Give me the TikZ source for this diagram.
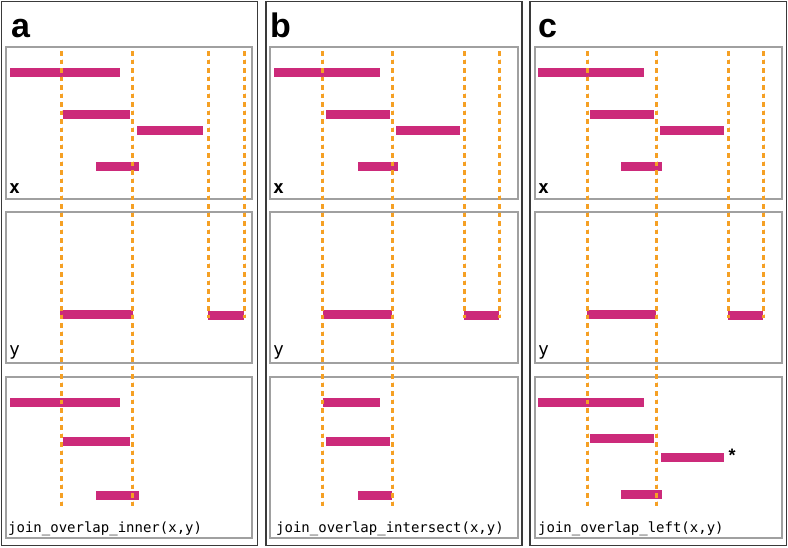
\documentclass[tikz,border=0pt]{standalone}
\usepackage{fontspec}
\setsansfont{Liberation Sans}
\setmonofont{DejaVu Sans Mono}
\usetikzlibrary{positioning}
\definecolor{ivBar}{HTML}{CC2A7A}
\definecolor{ivDash}{HTML}{F5A024}
\definecolor{ivFrame}{HTML}{3A3A3A}
\definecolor{ivBox}{HTML}{A0A0A0}

\tikzset{
  panel/.style={draw=ivFrame, line width=1.8pt},
  trackbox/.style={draw=ivBox, line width=1.2pt},
  interval/.style={fill=ivBar},
  guide/.style={draw=ivDash, line width=3pt, dash pattern=on 4.5pt off 4pt},
  paneltag/.style={inner sep=0pt, anchor=base west, font=\sffamily\bfseries\fontsize{34}{34}\selectfont},
  tracklabel/.style={inner sep=0pt, anchor=base west, font=\ttfamily\fontsize{18}{18}\selectfont},
  joinlabel/.style={inner sep=0pt, anchor=base west, font=\ttfamily\fontsize{14}{14}\selectfont}
}
\newcommand{\ivbar}[3]{\fill[interval] (#1,#3-4.5) rectangle (#2,#3+4.5);}

\begin{document}
\begin{tikzpicture}[x=1pt,y=-1pt]
\useasboundingbox (0,0) rectangle (788,547);

% panel a
\draw[panel] (1.5,1.5) rectangle (257.5,545.5);
\node[paneltag] (tagA) at (11,37) {a};
\foreach \t/\b in {47/199,212/363,377/538}
  \draw[trackbox] (6,\t) rectangle (252,\b);
\foreach \l/\r/\y in {10/120/72,63/130/114,137/203/130,96/139/166,
                      60/133/314,208/244/315,
                      10/120/402,63/130/441,96/139/495}
  \ivbar{\l}{\r}{\y}
\foreach \x/\e in {61/508,132/508,208/318,244/318}
  \draw[guide] (\x,51) -- (\x,\e);
\node[tracklabel, font=\ttfamily\bfseries\fontsize{18}{18}\selectfont] (xA) at (9,193) {x};
\node[tracklabel] (yA) at (9,355) {y};
\node[joinlabel] (opA) at (8,532) {join\_overlap\_inner(x,y)};

% panel b
\draw[panel] (266,1.5) rectangle (522,545.5);
\node[paneltag] (tagB) at (270,37) {b};
\foreach \t/\b in {47/199,212/363,377/538}
  \draw[trackbox] (270,\t) rectangle (518,\b);
\foreach \l/\r/\y in {274/380/72,326/390/114,396/460/130,358/398/166,
                      323/392/314,464/499/315,
                      323/380/402,326/390/441,358/392/495}
  \ivbar{\l}{\r}{\y}
\foreach \x/\e in {322/508,392/508,464/318,499/318}
  \draw[guide] (\x,51) -- (\x,\e);
\node[tracklabel, font=\ttfamily\bfseries\fontsize{18}{18}\selectfont] (xB) at (273,193) {x};
\node[tracklabel] (yB) at (273,355) {y};
\node[joinlabel] (opB) at (276,532) {join\_overlap\_intersect(x,y)};

% panel c
\draw[panel] (530,1.5) rectangle (786.5,545.5);
\node[paneltag] (tagC) at (538,37) {c};
\foreach \t/\b in {47/199,212/363,377/538}
  \draw[trackbox] (535,\t) rectangle (782,\b);
\foreach \l/\r/\y in {538/644/72,590/654/114,660/724/130,621/662/166,
                      587/656/314,728/763/315,
                      538/644/402,590/654/438,661/724/457,621/662/494}
  \ivbar{\l}{\r}{\y}
\foreach \x/\e in {587/508,656/508,728/318,763/318}
  \draw[guide] (\x,51) -- (\x,\e);
\node[tracklabel, font=\ttfamily\bfseries\fontsize{18}{18}\selectfont] (xC) at (538,193) {x};
\node[tracklabel] (yC) at (538,355) {y};
\node[joinlabel] (opC) at (538,532) {join\_overlap\_left(x,y)};
\node[inner sep=0pt, font=\sffamily\bfseries\fontsize{18}{18}\selectfont] (star) at (732,455) {*};
\end{tikzpicture}
\end{document}
